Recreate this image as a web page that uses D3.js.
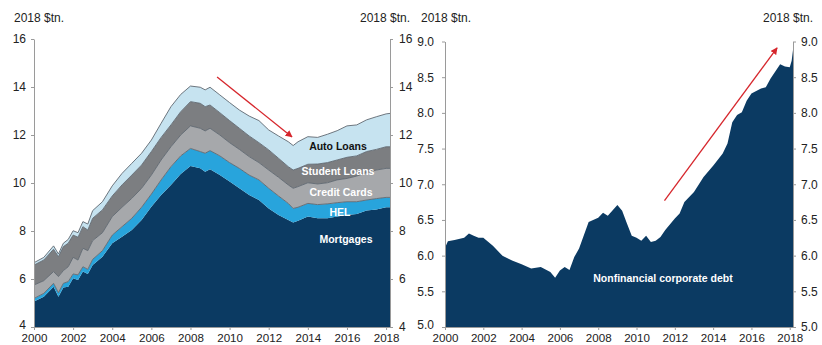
<!DOCTYPE html>
<html>
<head>
<meta charset="utf-8">
<script src="https://cdn.jsdelivr.net/npm/d3@7"></script>
<style>
  html, body { margin: 0; padding: 0; background: #fff; }
  svg { display: block; font-family: "Liberation Sans", Arial, sans-serif; }
  .axis path, .axis line { stroke: #9a9a9a; }
  .axis text { fill: #222; font-size: 12px; }
  .axis.xax text { font-size: 11.6px; }
</style>
</head>
<body>
<svg id="chart" width="822" height="345"></svg>
<script>
// Household debt by type, 2018 $tn., stacked
const hhYears = [2000, 2000.5, 2001, 2001.25, 2001.5, 2001.75, 2002, 2002.25, 2002.5, 2002.75,
  2003, 2003.5, 2004, 2004.5, 2005, 2005.5, 2006, 2006.5, 2007, 2007.5, 2008, 2008.5, 2008.75,
  2009, 2009.5, 2010, 2010.5, 2011, 2011.5, 2012, 2012.5, 2013, 2013.25, 2013.5, 2014, 2014.5,
  2015, 2015.5, 2016, 2016.5, 2017, 2017.5, 2018, 2018.2];
const mortgages = [5.06, 5.26, 5.68, 5.26, 5.65, 5.68, 6.03, 5.96, 6.31, 6.21,
  6.58, 6.93, 7.49, 7.76, 8.04, 8.46, 9.01, 9.50, 9.92, 10.38, 10.71, 10.61, 10.47,
  10.57, 10.33, 10.06, 9.78, 9.50, 9.29, 8.94, 8.67, 8.46, 8.35, 8.43, 8.60, 8.53,
  8.53, 8.60, 8.67, 8.71, 8.85, 8.90, 8.99, 8.99];
const hel = [0.13, 0.14, 0.14, 0.17, 0.17, 0.21, 0.18, 0.21, 0.20, 0.19,
  0.24, 0.25, 0.34, 0.42, 0.49, 0.53, 0.53, 0.63, 0.76, 0.75, 0.73, 0.70, 0.77,
  0.78, 0.80, 0.79, 0.83, 0.83, 0.84, 0.84, 0.79, 0.69, 0.59, 0.56, 0.55, 0.57,
  0.60, 0.58, 0.55, 0.51, 0.44, 0.45, 0.41, 0.41];
const creditCards = [0.56, 0.53, 0.49, 0.67, 0.53, 0.62, 0.69, 0.62, 0.77, 0.78,
  0.78, 0.75, 0.77, 0.81, 0.83, 0.79, 0.79, 0.83, 0.83, 0.87, 0.94, 0.97, 0.93,
  0.93, 0.87, 0.83, 0.79, 0.77, 0.72, 0.76, 0.78, 0.77, 0.84, 0.86, 0.86, 0.86,
  0.88, 0.95, 0.97, 1.07, 1.14, 1.19, 1.21, 1.21];
const studentLoans = [0.83, 0.86, 0.93, 0.83, 1.00, 0.98, 0.93, 0.95, 0.90, 0.86,
  0.93, 0.95, 0.86, 0.93, 0.97, 0.97, 0.98, 0.94, 0.91, 0.97, 1.01, 1.04, 1.01,
  0.97, 0.93, 0.92, 0.88, 0.86, 0.83, 0.84, 0.79, 0.76, 0.76, 0.76, 0.77, 0.83,
  0.84, 0.83, 0.88, 0.84, 0.88, 0.86, 0.90, 0.90];
const autoLoans = [0.10, 0.11, 0.14, 0.11, 0.14, 0.16, 0.18, 0.19, 0.21, 0.25,
  0.32, 0.34, 0.42, 0.48, 0.49, 0.49, 0.48, 0.59, 0.76, 0.72, 0.65, 0.67, 0.70,
  0.74, 0.74, 0.75, 0.76, 0.83, 0.92, 0.83, 0.93, 1.04, 1.02, 1.11, 1.15, 1.11,
  1.18, 1.22, 1.31, 1.29, 1.32, 1.36, 1.37, 1.39];

// Nonfinancial corporate debt, 2018 $tn.
const corpYears = [2000, 2000.15, 2000.5, 2001, 2001.25, 2001.5, 2001.75, 2002, 2002.5, 2003,
  2003.5, 2004, 2004.5, 2005, 2005.5, 2005.75, 2006, 2006.25, 2006.5, 2006.75, 2007, 2007.5,
  2008, 2008.25, 2008.5, 2009, 2009.25, 2009.5, 2009.75, 2010, 2010.25, 2010.5, 2010.75, 2011,
  2011.25, 2011.5, 2012, 2012.25, 2012.5, 2013, 2013.5, 2014, 2014.5, 2014.75, 2015, 2015.25,
  2015.5, 2015.75, 2016, 2016.5, 2016.75, 2017, 2017.5, 2017.75, 2018, 2018.1, 2018.17];
const corpDebt = [6.11, 6.20, 6.22, 6.25, 6.31, 6.28, 6.25, 6.25, 6.14, 6.00,
  5.93, 5.88, 5.82, 5.84, 5.77, 5.69, 5.79, 5.84, 5.80, 5.98, 6.10, 6.47,
  6.53, 6.60, 6.56, 6.71, 6.63, 6.45, 6.28, 6.25, 6.21, 6.28, 6.19, 6.21,
  6.26, 6.36, 6.52, 6.59, 6.75, 6.89, 7.10, 7.26, 7.43, 7.57, 7.87, 7.97,
  8.01, 8.17, 8.27, 8.34, 8.36, 8.48, 8.68, 8.65, 8.64, 8.73, 8.88];

const hhKeys = ["Mortgages", "HEL", "Credit Cards", "Student Loans", "Auto Loans"];
const hhColors = ["#0b3a62", "#28a4dc", "#a6a8ab", "#7c7e81", "#c6e3f0"];
const hhTicks = [4, 6, 8, 10, 12, 14, 16];
const corpTicks = [5.0, 5.5, 6.0, 6.5, 7.0, 7.5, 8.0, 8.5, 9.0];
const yearTicks = [2000, 2002, 2004, 2006, 2008, 2010, 2012, 2014, 2016, 2018];
const unitLabel = "2018 $tn.";

// trend arrows, in data units: [x0, y0, x1, y1]
const hhTrend = [2009.36, 14.42, 2013.19, 11.92];
const corpTrend = [2011.46, 6.77, 2017.34, 8.91];

const svg = d3.select("#chart");
const fmtYear = d3.format("d");

svg.append("defs").append("marker")
  .attr("id", "arrowhead")
  .attr("viewBox", "0 0 10 10")
  .attr("refX", 9).attr("refY", 5)
  .attr("markerWidth", 7).attr("markerHeight", 7)
  .attr("markerUnits", "userSpaceOnUse")
  .attr("orient", "auto")
  .append("path").attr("d", "M0,0 L10,5 L0,10 Z").attr("fill", "#d6262c");

function frame(g, x, y, yTicks, yFmt, padL, padR) {
  const [x0, x1] = x.range();
  const [yb] = y.range();
  g.append("g").attr("class", "axis xax")
    .attr("transform", `translate(0,${yb})`)
    .call(d3.axisBottom(x).tickValues(yearTicks).tickFormat(fmtYear)
      .tickSize(3).tickPadding(4).tickSizeOuter(0));
  const left = g.append("g").attr("class", "axis")
    .attr("transform", `translate(${x0},0)`)
    .call(d3.axisLeft(y).tickValues(yTicks).tickFormat(yFmt)
      .tickSize(3).tickPadding(padL).tickSizeOuter(0));
  // lift the lowest left label a touch so it clears the first year label
  left.selectAll(".tick text").filter(d => d === yTicks[0]).attr("dy", "0.1em");
  g.append("g").attr("class", "axis")
    .attr("transform", `translate(${x1},0)`)
    .call(d3.axisRight(y).tickValues(yTicks).tickFormat(yFmt)
      .tickSize(3).tickPadding(padR).tickSizeOuter(0));
}

function arrow(g, x, y, a) {
  g.append("line")
    .attr("x1", x(a[0])).attr("y1", y(a[1]))
    .attr("x2", x(a[2])).attr("y2", y(a[3]))
    .attr("stroke", "#d6262c").attr("stroke-width", 1.3)
    .attr("marker-end", "url(#arrowhead)");
}

function unitText(x, anchor) {
  svg.append("text").attr("x", x).attr("y", 22)
    .attr("text-anchor", anchor)
    .attr("font-size", 12).attr("fill", "#222")
    .text(unitLabel);
}

// ---- household debt panel ----
{
  const x = d3.scaleLinear().domain([2000, 2018.2]).range([34, 390]);
  const y = d3.scaleLinear().domain([4, 16]).range([327, 39]);
  const rows = hhYears.map((yr, i) => ({
    year: yr,
    "Mortgages": mortgages[i],
    "HEL": hel[i],
    "Credit Cards": creditCards[i],
    "Student Loans": studentLoans[i],
    "Auto Loans": autoLoans[i]
  }));
  const series = d3.stack().keys(hhKeys)(rows);
  // the axis starts at 4, so the bottom layer is filled from the floor
  const area = d3.area()
    .x(d => x(d.data.year))
    .y0(d => y(Math.max(d[0], 4)))
    .y1(d => y(d[1]));
  const g = svg.append("g");
  g.selectAll("path.layer").data(series).join("path")
    .attr("class", "layer")
    .attr("d", s => area(s))
    .attr("fill", (s, i) => hhColors[i]);
  const edge = d3.line().x(d => x(d.data.year)).y(d => y(d[1]));
  g.selectAll("path.edge").data(series.slice(1)).join("path")
    .attr("class", "edge")
    .attr("d", s => edge(s))
    .attr("fill", "none").attr("stroke", "#5f6870").attr("stroke-width", 0.9);

  frame(g, x, y, hhTicks, d3.format("d"), 5, 6);
  arrow(g, x, y, hhTrend);

  const labels = [
    { t: "Auto Loans", cx: 338, cy: 146, c: "#111" },
    { t: "Student Loans", cx: 338, cy: 171, c: "#fff" },
    { t: "Credit Cards", cx: 341, cy: 192, c: "#fff" },
    { t: "HEL", cx: 340, cy: 212, c: "#fff" },
    { t: "Mortgages", cx: 346, cy: 239, c: "#fff" }
  ];
  g.selectAll("text.lbl").data(labels).join("text")
    .attr("class", "lbl")
    .attr("x", d => d.cx).attr("y", d => d.cy).attr("dy", "0.35em")
    .attr("text-anchor", "middle")
    .attr("font-size", 10.5).attr("font-weight", "bold")
    .attr("fill", d => d.c)
    .text(d => d.t);

  unitText(14, "start");
  unitText(410, "end");
}

// ---- nonfinancial corporate debt panel ----
{
  const x = d3.scaleLinear().domain([2000, 2018.17]).range([445, 793]);
  const y = d3.scaleLinear().domain([5, 9]).range([327, 41.5]);
  const pts = corpYears.map((yr, i) => ({ year: yr, v: corpDebt[i] }));
  const area = d3.area().x(d => x(d.year)).y0(y(5)).y1(d => y(d.v));
  const g = svg.append("g");
  g.append("path").attr("d", area(pts)).attr("fill", "#0b3a62");

  frame(g, x, y, corpTicks, d3.format(".1f"), 8, 5);
  arrow(g, x, y, corpTrend);

  g.append("text")
    .attr("x", 663).attr("y", 278).attr("dy", "0.35em")
    .attr("text-anchor", "middle")
    .attr("font-size", 10.5).attr("font-weight", "bold").attr("fill", "#fff")
    .text("Nonfinancial corporate debt");

  unitText(421, "start");
  unitText(813, "end");
}
</script>
</body>
</html>
